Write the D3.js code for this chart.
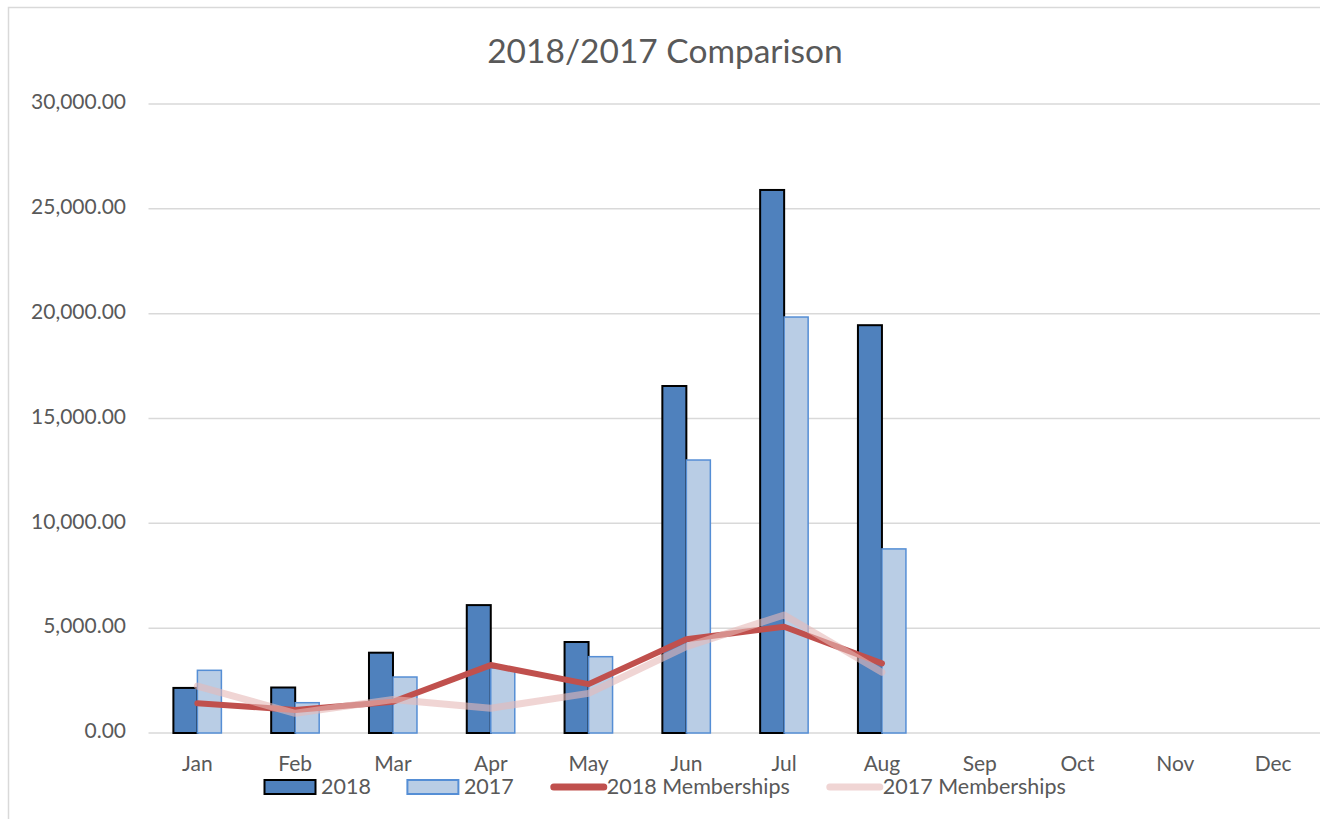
<!doctype html>
<html>
<head>
  <script src="https://cdnjs.cloudflare.com/ajax/libs/d3/7.8.5/d3.min.js" type="text/JavaScript"></script>
  <style>
    body { margin: 0; background: #fff; }
    text { font-family: Lato, "Open Sans", sans-serif; fill: #595959; }
  </style>
</head>
<body>
<svg height="819" width="1320"></svg>
<script type="text/javascript">
var months = ["Jan","Feb","Mar","Apr","May","Jun","Jul","Aug","Sep","Oct","Nov","Dec"]
var sales2018 = [2150, 2170, 3830, 6100, 4340, 16550, 25900, 19450]
var sales2017 = [2990, 1445, 2670, 3100, 3640, 13020, 19840, 8780]
var members2018 = [1420, 1100, 1490, 3240, 2330, 4470, 5070, 3320]
var members2017 = [2240, 940, 1600, 1180, 1890, 4120, 5630, 2900]
var yTicks = [0, 5000, 10000, 15000, 20000, 25000, 30000]

var svg = d3.select("svg")
var fmt = d3.format(",.2f")

// chart frame, runs off the right and bottom edge
svg.append("rect")
   .attr("x", 8.5).attr("y", 7.5)
   .attr("width", 1340).attr("height", 840)
   .style("fill", "none").style("stroke", "#D9D9D9").style("stroke-width", 1.5)

var x = d3.scaleBand().domain(months).range([148.5, 1322])
var y = d3.scaleLinear().domain([0, 30000]).range([733, 104])
var xSub = d3.scaleBand().domain(["2018","2017"])
   .range([x.bandwidth() / 2 - 24, x.bandwidth() / 2 + 24])

svg.append("text")
   .attr("x", 665).attr("y", 63)
   .attr("text-anchor", "middle")
   .style("font-size", "33.5px")
   .text("2018/2017 Comparison")

// gridlines + y labels
svg.append("g").selectAll("line").data(yTicks)
   .enter().append("line")
   .attr("x1", 148.5).attr("x2", 1320)
   .attr("y1", d => y(d)).attr("y2", d => y(d))
   .style("stroke", "#D9D9D9").style("stroke-width", 1.5)

svg.append("g").selectAll("text").data(yTicks)
   .enter().append("text")
   .attr("x", 126).attr("y", d => y(d))
   .attr("text-anchor", "end").attr("dominant-baseline", "middle")
   .style("font-size", "21px")
   .text(d => fmt(d))

svg.append("g").selectAll("text").data(months)
   .enter().append("text")
   .attr("x", d => x(d) + x.bandwidth() / 2).attr("y", 771)
   .attr("text-anchor", "middle")
   .style("font-size", "21px")
   .text(d => d)

// bars
var barG = svg.append("g")
barG.selectAll("rect.b18").data(sales2018)
   .enter().append("rect").attr("class", "b18")
   .attr("x", (d, i) => x(months[i]) + xSub("2018"))
   .attr("width", xSub.bandwidth())
   .attr("y", d => y(d)).attr("height", d => y(0) - y(d))
   .style("fill", "#4F81BD").style("stroke", "#000").style("stroke-width", 2)

barG.selectAll("rect.b17").data(sales2017)
   .enter().append("rect").attr("class", "b17")
   .attr("x", (d, i) => x(months[i]) + xSub("2017"))
   .attr("width", xSub.bandwidth())
   .attr("y", d => y(d)).attr("height", d => y(0) - y(d))
   .style("fill", "#B9CDE5").style("stroke", "#558ED5").style("stroke-width", 1.5)

// membership lines
var line = d3.line()
   .x((d, i) => x(months[i]) + x.bandwidth() / 2)
   .y(d => y(d))

svg.append("path").datum(members2018)
   .attr("d", line)
   .style("fill", "none").style("stroke", "#C0504D").style("stroke-width", 6)
   .style("stroke-linecap", "round").style("stroke-linejoin", "round")

svg.append("path").datum(members2017)
   .attr("d", line)
   .style("fill", "none").style("stroke", "#E6B9B8").style("stroke-opacity", 0.6)
   .style("stroke-width", 7).style("stroke-linecap", "round").style("stroke-linejoin", "round")

// legend
var legendItems = [
  {name: "2018", kind: "bar", fill: "#4F81BD", stroke: "#000"},
  {name: "2017", kind: "bar", fill: "#B9CDE5", stroke: "#558ED5"},
  {name: "2018 Memberships", kind: "line", stroke: "#C0504D", op: 1},
  {name: "2017 Memberships", kind: "line", stroke: "#E6B9B8", op: 0.6}
]
var lx = 264
legendItems.forEach(function(it) {
  var g = svg.append("g").attr("transform", "translate(" + lx + ",787)")
  if (it.kind == "bar") {
    g.append("rect").attr("x", 0.5).attr("y", -7).attr("width", 51).attr("height", 14)
     .style("fill", it.fill).style("stroke", it.stroke).style("stroke-width", 2)
  } else {
    g.append("line").attr("x1", 4).attr("x2", 54).attr("y1", 0).attr("y2", 0)
     .style("stroke", it.stroke).style("stroke-opacity", it.op)
     .style("stroke-width", 7).style("stroke-linecap", "round")
  }
  var t = g.append("text").attr("x", 57).attr("y", 7)
     .style("font-size", "21.5px").text(it.name)
  lx += 57 + t.node().getComputedTextLength() + 36
})
</script>
</body>
</html>
